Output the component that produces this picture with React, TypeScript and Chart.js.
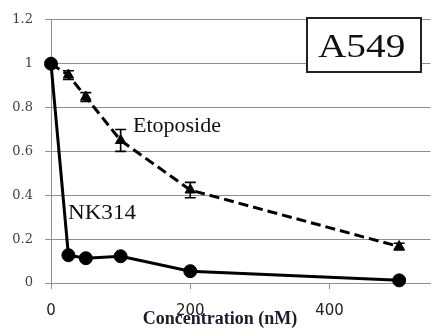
import React, { useEffect, useRef } from "react";
import { Chart, registerables } from "chart.js";

Chart.register(...registerables);

// ---- data ----
const NK314_X = [0, 25, 50, 100, 200, 500];
const NK314_Y = [1.0, 0.127, 0.113, 0.122, 0.054, 0.012];
const ETO_X = [0, 25, 50, 100, 200, 500];
const ETO_Y = [1.0, 0.948, 0.848, 0.65, 0.424, 0.166];
const ETO_ERR = [0.0, 0.02, 0.02, 0.05, 0.035, 0.015];
const X_TICKS = [0, 200, 400];
const Y_TICKS = [0, 0.2, 0.4, 0.6, 0.8, 1, 1.2];
const X_TITLE = "Concentration (nM)";
const LABEL_ETO = "Etoposide";
const LABEL_NK = "NK314";
const PANEL_LABEL = "A549";

const GRID = "#8e8e8e";
const SERIF = "Liberation Serif, Times New Roman, serif";

const errorBarPlugin = {
  id: "errorBars",
  afterDatasetsDraw(chart: any) {
    const ctx = chart.ctx;
    const meta = chart.getDatasetMeta(1);
    const ys = chart.scales.y;
    ctx.save();
    ctx.strokeStyle = "#000";
    ctx.lineWidth = 1.6;
    meta.data.forEach((pt: any, i: number) => {
      const e = ETO_ERR[i];
      if (!e) return;
      const x = pt.x;
      const yt = ys.getPixelForValue(ETO_Y[i] + e);
      const yb = ys.getPixelForValue(ETO_Y[i] - e);
      ctx.beginPath();
      ctx.moveTo(x, yt);
      ctx.lineTo(x, yb);
      ctx.moveTo(x - 5.5, yt);
      ctx.lineTo(x + 5.5, yt);
      ctx.moveTo(x - 5.5, yb);
      ctx.lineTo(x + 5.5, yb);
      ctx.stroke();
    });
    ctx.restore();
  },
};

function stretchText(
  ctx: any,
  text: string,
  x: number,
  y: number,
  font: string,
  sx: number,
  color = "#111"
) {
  ctx.save();
  ctx.font = font;
  ctx.fillStyle = color;
  ctx.textAlign = "left";
  ctx.textBaseline = "alphabetic";
  ctx.translate(x, y);
  ctx.scale(sx, 1);
  ctx.fillText(text, 0, 0);
  ctx.restore();
}

const annotationPlugin = {
  id: "annotations",
  afterDraw(chart: any) {
    const ctx = chart.ctx;
    stretchText(ctx, LABEL_ETO, 133, 132, "22px " + SERIF, 1.0);
    stretchText(ctx, LABEL_NK, 68, 219, "21px " + SERIF, 1.1);
    // panel label box
    ctx.save();
    ctx.fillStyle = "#fff";
    ctx.fillRect(307, 18, 114, 54);
    ctx.strokeStyle = "#222";
    ctx.lineWidth = 2;
    ctx.strokeRect(307, 18, 114, 54);
    ctx.restore();
    stretchText(ctx, PANEL_LABEL, 318, 57, "33px " + SERIF, 1.19);
    // x axis title
    ctx.save();
    ctx.font = "bold 18px " + SERIF;
    ctx.fillStyle = "#1c1c2c";
    ctx.textAlign = "center";
    ctx.textBaseline = "alphabetic";
    ctx.fillText(X_TITLE, 220, 324);
    ctx.restore();
  },
};

export default function App() {
  const ref = useRef<HTMLCanvasElement | null>(null);
  useEffect(() => {
    if (!ref.current) return;
    const chart = new Chart(ref.current, {
      type: "line",
      data: {
        datasets: [
          {
            label: LABEL_NK,
            data: NK314_X.map((x, i) => ({ x, y: NK314_Y[i] })),
            borderColor: "#000",
            backgroundColor: "#000",
            borderWidth: 3,
            pointStyle: "circle",
            pointRadius: 6.5,
            pointBackgroundColor: "#000",
            pointBorderColor: "#000",
            pointBorderWidth: 1,
            tension: 0,
            clip: false,
          },
          {
            label: LABEL_ETO,
            data: ETO_X.map((x, i) => ({ x, y: ETO_Y[i] })),
            borderColor: "#000",
            backgroundColor: "#000",
            borderWidth: 3,
            borderDash: [10, 5],
            pointStyle: "triangle",
            pointRadius: 6,
            pointBackgroundColor: "#000",
            pointBorderColor: "#000",
            pointBorderWidth: 1,
            tension: 0,
            clip: false,
          },
        ],
      },
      options: {
        responsive: false,
        animation: false,
        layout: { padding: { top: 17, right: 0, bottom: 0, left: 0 } },
        plugins: { legend: { display: false }, tooltip: { enabled: false } },
        scales: {
          x: {
            type: "linear",
            position: "bottom",
            min: 0,
            max: 545,
            afterBuildTicks: (s: any) => {
              s.ticks = X_TICKS.map((v) => ({ value: v }));
            },
            afterFit: (s: any) => {
              s.height = 46;
            },
            grid: { drawOnChartArea: false, drawTicks: true, tickLength: 6, color: GRID },
            border: { display: true, color: GRID, width: 1 },
            ticks: {
              padding: 13,
              maxRotation: 0,
              color: "#222",
              font: { family: "DejaVu Sans", size: 15 },
            },
            title: { display: false, text: X_TITLE },
          },
          y: {
            type: "linear",
            min: 0,
            max: 1.2,
            afterBuildTicks: (s: any) => {
              s.ticks = Y_TICKS.map((v) => ({ value: v }));
            },
            afterFit: (s: any) => {
              s.width = 51;
            },
            grid: { drawOnChartArea: true, drawTicks: true, tickLength: 6, color: GRID },
            border: { display: true, color: GRID, width: 1 },
            ticks: {
              padding: 12,
              color: "#3a3f4a",
              font: { family: "DejaVu Serif", size: 13 },
              callback: (v: any) => String(Math.round(Number(v) * 10) / 10),
            },
          },
        },
      },
      plugins: [errorBarPlugin, annotationPlugin],
    } as any);
    return () => chart.destroy();
  }, []);
  return (
    <div style={{ position: "absolute", left: 0, top: 0, width: 438, height: 329, background: "#fff" }}>
      <canvas ref={ref} width={438} height={329} />
    </div>
  );
}
